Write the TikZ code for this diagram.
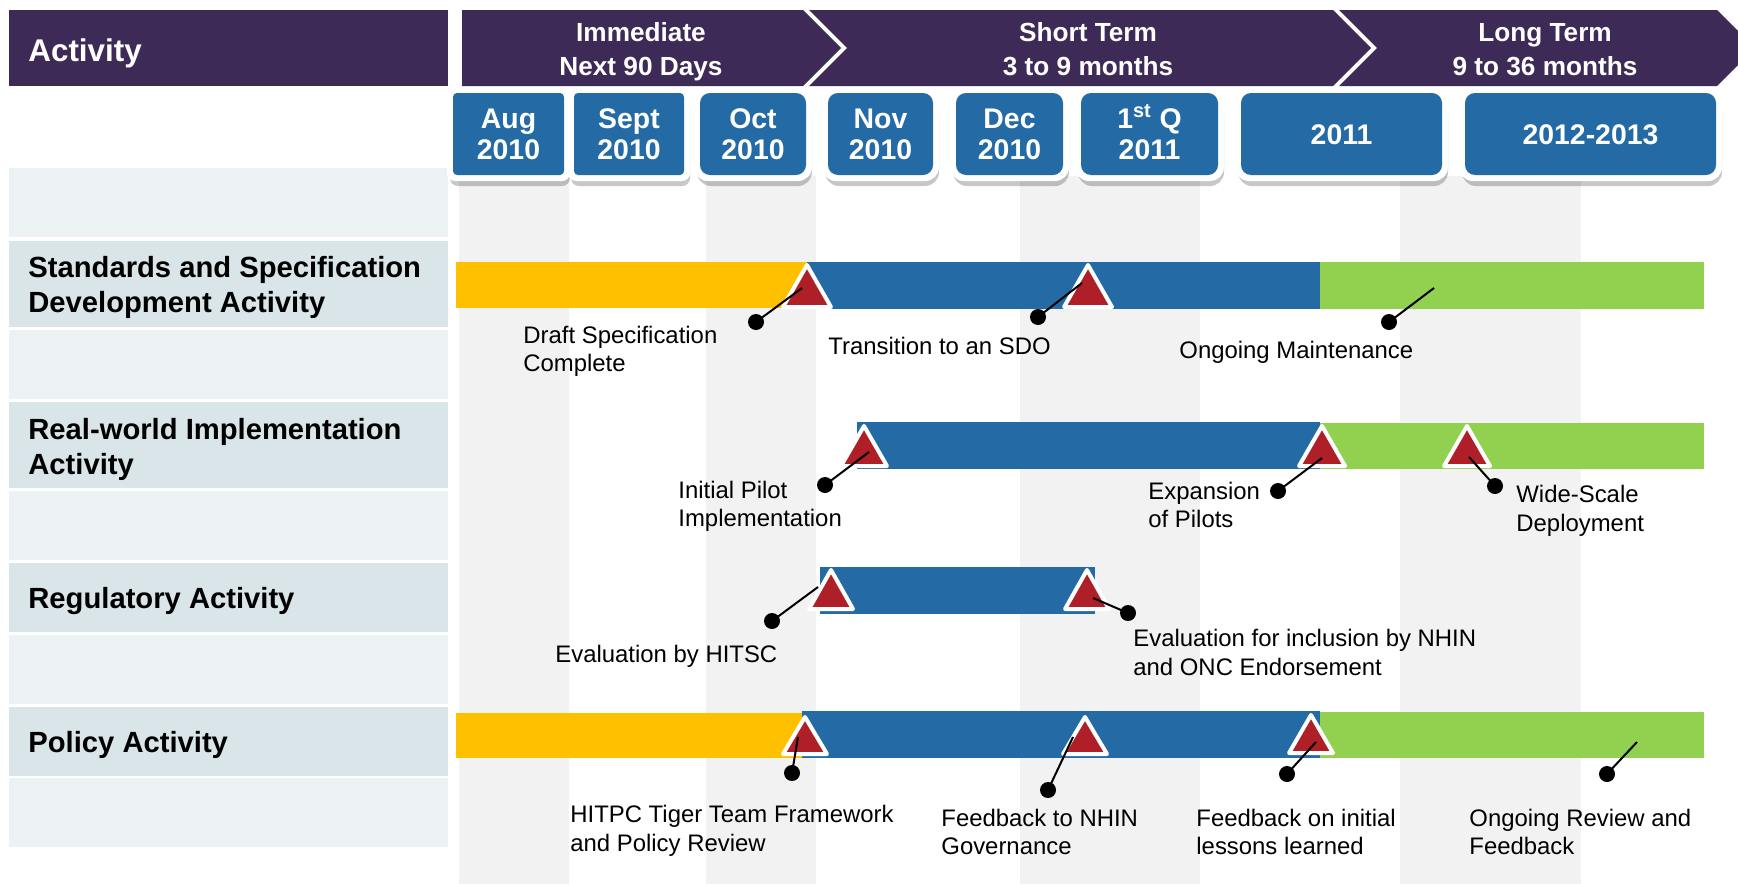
\documentclass[tikz,border=0pt]{standalone}
\usepackage{fontspec}
\setmainfont{Liberation Sans}
\definecolor{hdr}{HTML}{3D2A56}
\definecolor{boxblue}{HTML}{246AA4}
\definecolor{baryellow}{HTML}{FFC000}
\definecolor{bargreen}{HTML}{92D050}
\definecolor{mred}{HTML}{AE1F28}
\definecolor{stripe}{HTML}{F2F2F2}
\definecolor{rowlight}{HTML}{ECF1F4}
\definecolor{rowdark}{HTML}{D9E5E8}
\newcommand\mydatebox[6]{% x1, x2, radius, outer radius, name, text
  \fill[black,opacity=0.22,rounded corners=#4] (#1-3,100) rectangle (#2+6,186);
  \fill[white,rounded corners=#4] (#1-6,87) rectangle (#2+6,181);
  \fill[boxblue,rounded corners=#3] (#1,93) rectangle (#2,175);
  \node[datetxt] (#5) at ({(#1+#2)/2},159.5) {#6};
}
\newcommand\mymilestone[5]{% name, apex x, apex y, base y, half width
  \filldraw[milestone] (#2,#3) -- (#2+#5,#4) -- (#2-#5,#4) -- cycle;
  \coordinate (#1) at (#2,{(#3+#4)/2});
}
\begin{document}
\begin{tikzpicture}[x=0.5pt,y=-0.5pt,
  lbl/.style={inner sep=0pt,align=left,text depth=0pt,anchor=south west,font=\fontsize{11.95}{14.2}\selectfont},
  rowlbl/.style={inner sep=0pt,align=left,text depth=0pt,anchor=south west,font=\bfseries\fontsize{14.6}{17.5}\selectfont},
  chevtxt/.style={inner sep=0pt,align=center,text depth=0pt,anchor=south,text=white,font=\bfseries\fontsize{13.1}{17}\selectfont},
  datetxt/.style={inner sep=0pt,align=center,text depth=0pt,anchor=south,text=white,font=\bfseries\fontsize{14.2}{15.5}\selectfont},
  dotnode/.style={circle,fill=black,inner sep=0pt,minimum size=8pt},
  callout/.style={line width=1pt,black},
  milestone/.style={fill=mred,draw=white,line width=2pt,line join=round},
]
\useasboundingbox (0,0) rectangle (1738,884);
\fill[white] (0,0) rectangle (1738,884);

% vertical stripes
\foreach \a/\b in {459/569,706/816,1020/1200,1400/1581}
  \fill[stripe] (\a,176) rectangle (\b,884);

% left panel
\fill[rowlight] (9,168) rectangle (448,237);
\fill[rowdark]  (9,241) rectangle (448,327);
\fill[rowlight] (9,330) rectangle (448,399);
\fill[rowdark]  (9,402) rectangle (448,488);
\fill[rowlight] (9,491) rectangle (448,560);
\fill[rowdark]  (9,563) rectangle (448,632);
\fill[rowlight] (9,635) rectangle (448,704);
\fill[rowdark]  (9,707) rectangle (448,776);
\fill[rowlight] (9,778) rectangle (448,847);

% header
\fill[hdr] (9,10) rectangle (448,86);
\node[inner sep=0pt,anchor=base west,text=white,font=\bfseries\fontsize{15.7}{18}\selectfont] (acthdr) at (28,61) {Activity};

\fill[hdr] (462,10) -- (803,10) -- (841,48) -- (803,86) -- (462,86) -- cycle;
\fill[hdr] (809,10) -- (1333,10) -- (1371,48) -- (1333,86) -- (809,86) -- (847,48) -- cycle;
\fill[hdr] (1339,10) -- (1717,10) -- (1755,48) -- (1717,86) -- (1339,86) -- (1377,48) -- cycle;
\node[chevtxt] (immediate) at (641,75.5) {Immediate\\Next 90 Days};
\node[chevtxt] (shortterm) at (1088,75.5) {Short Term\\3 to 9 months};
\node[chevtxt] (longterm) at (1545,75.5) {Long Term\\9 to 36 months};

% date boxes
\mydatebox{453}{564}{2pt}{4pt}{aug}{Aug\\2010}
\mydatebox{574}{684}{2pt}{4pt}{sep}{Sept\\2010}
\mydatebox{700}{806}{5pt}{7pt}{oct}{Oct\\2010}
\mydatebox{828}{933}{5pt}{7pt}{nov}{Nov\\2010}
\mydatebox{956}{1063}{5pt}{7pt}{dec}{Dec\\2010}
\mydatebox{1081}{1218}{5pt}{7pt}{q1}{1\textsuperscript{st} Q\\2011}
\mydatebox{1241}{1442}{5pt}{7pt}{y2011}{}
\mydatebox{1465}{1716}{5pt}{7pt}{y2012}{}
\node[datetxt,anchor=base] (y2011t) at (1341.5,144) {2011};
\node[datetxt,anchor=base] (y2012t) at (1590.5,144) {2012-2013};

% row labels
\node[rowlbl] (rstd) at (28,313) {Standards and Specification\\Development Activity};
\node[rowlbl] (rreal) at (28,475) {Real-world Implementation\\Activity};
\node[rowlbl] (rreg) at (28,609) {Regulatory Activity};
\node[rowlbl] (rpol) at (28,753) {Policy Activity};

% bars
\fill[baryellow] (456,262) rectangle (808,308);
\fill[boxblue] (807,262) rectangle (1320,309);
\fill[bargreen] (1320,262) rectangle (1704,309);

\fill[boxblue] (857,422) rectangle (1320,469);
\fill[bargreen] (1320,423) rectangle (1704,469);

\fill[boxblue] (820,567) rectangle (1095,614);

\fill[baryellow] (456,713) rectangle (806,758);
\fill[boxblue] (802,711) rectangle (1320,758);
\fill[bargreen] (1320,712) rectangle (1704,758);

% milestones
\mymilestone{m1}{807}{265}{307}{24}
\mymilestone{m2}{1088}{265}{307}{24}
\mymilestone{m3}{864}{426}{466}{23}
\mymilestone{m4}{1322}{426}{466}{23}
\mymilestone{m5}{1467}{426}{466}{23}
\mymilestone{m6}{831}{570}{609}{22}
\mymilestone{m7}{1087}{570}{609}{22}
\mymilestone{m8}{805}{717}{754}{22}
\mymilestone{m9}{1085}{717}{754}{22}
\mymilestone{m10}{1311}{715}{753}{22}

% callout ends on bars
\coordinate (e1) at (802,288);
\coordinate (e2) at (1082,283);
\coordinate (e3) at (1434,288);
\coordinate (e4) at (869,452);
\coordinate (e5) at (1322,458);
\coordinate (e6) at (1469,457);
\coordinate (e7) at (818,587);
\coordinate (e8) at (1093,598);
\coordinate (e9) at (798,737);
\coordinate (e10) at (1073,737);
\coordinate (e11) at (1316,742);
\coordinate (e12) at (1637,742);

% dots
\node[dotnode] (d1) at (756,322) {};
\node[dotnode] (d2) at (1038,317) {};
\node[dotnode] (d3) at (1389,322) {};
\node[dotnode] (d4) at (825,485) {};
\node[dotnode] (d5) at (1278,491) {};
\node[dotnode] (d6) at (1495,486) {};
\node[dotnode] (d7) at (772,621) {};
\node[dotnode] (d8) at (1128,613) {};
\node[dotnode] (d9) at (792,773) {};
\node[dotnode] (d10) at (1048,790) {};
\node[dotnode] (d11) at (1287,774) {};
\node[dotnode] (d12) at (1607,774) {};

\foreach \i in {1,...,12}
  \draw[callout] (d\i.center) -- (e\i);

% labels
\node[lbl] (l1) at (523,372) {Draft Specification\\Complete};
\node[lbl] (l2) at (828,355) {Transition to an SDO};
\node[lbl] (l3) at (1179,359) {Ongoing Maintenance};
\node[lbl] (l4) at (678,527) {Initial Pilot\\Implementation};
\node[lbl] (l5) at (1148,528) {Expansion\\of Pilots};
\node[lbl] (l6) at (1516,531.5) {Wide-Scale\\Deployment};
\node[lbl] (l7) at (555,663) {Evaluation by HITSC};
\node[lbl] (l8) at (1133,675.5) {Evaluation for inclusion by NHIN\\and ONC Endorsement};
\node[lbl] (l9) at (570,851.5) {HITPC Tiger Team Framework\\and Policy Review};
\node[lbl] (l10) at (941,855) {Feedback to NHIN\\Governance};
\node[lbl] (l11) at (1196,855) {Feedback on initial\\lessons learned};
\node[lbl] (l12) at (1469,855) {Ongoing Review and\\Feedback};
\end{tikzpicture}
\end{document}
